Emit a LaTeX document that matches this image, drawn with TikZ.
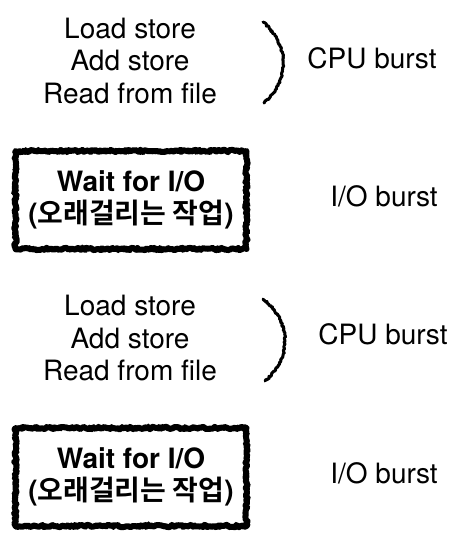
\documentclass[tikz,border=0pt]{standalone}
\usepackage{fontspec}
\setmainfont{TeX Gyre Heros}
\newfontfamily\kr[BoldFont={Noto Sans CJK KR Bold}]{Noto Sans CJK KR}
\usetikzlibrary{decorations.pathmorphing}

\begin{document}
\begin{tikzpicture}[x=1pt,y=-1pt,
    txt/.style={align=center, inner sep=0pt, font=\fontsize{28}{32.5}\selectfont},
    burst/.style={inner sep=0pt, font=\fontsize{28}{32.5}\selectfont},
    iobox/.style={txt, font=\fontsize{28}{32.5}\selectfont\bfseries,
      minimum width=231pt, minimum height=98pt,
      draw, line width=6pt, line join=round, decorate,
      decoration={random steps, segment length=1.5pt, amplitude=1.2pt},
      postaction={draw, line width=1.5pt, line join=round, decorate,
        decoration={random steps, segment length=1.2pt, amplitude=2.6pt}}},
    brace/.style={line width=3pt, line cap=round, line join=round, decorate,
      decoration={random steps, segment length=1.3pt, amplitude=0.9pt}}]
  \useasboundingbox (0,0) rectangle (458,546);

  % first cpu burst
  \node[txt] (cpu1) at (130,61) {Load store\\Add store\\Read from file};
  \coordinate (b1top) at (263,22);
  \coordinate (b1bot) at (264,103);
  \draw[brace] (b1top) .. controls (290,46) and (290,80) .. (b1bot);
  \node[burst] (cpu1lbl) at (372,58) {CPU burst};

  % first io burst
  \node[iobox] (io1) at (131,200) {Wait for I/O\\({\kr 오래걸리는 작업})};
  \node[burst] (io1lbl) at (384,196) {I/O burst};

  % second cpu burst
  \node[txt] (cpu2) at (130,338) {Load store\\Add store\\Read from file};
  \coordinate (b2top) at (263,299);
  \coordinate (b2bot) at (265,381);
  \draw[brace] (b2top) .. controls (292,322) and (292,358) .. (b2bot);
  \node[burst] (cpu2lbl) at (383,334) {CPU burst};

  % second io burst
  \node[iobox] (io2) at (131,477) {Wait for I/O\\({\kr 오래걸리는 작업})};
  \node[burst] (io2lbl) at (384,473) {I/O burst};
\end{tikzpicture}
\end{document}
